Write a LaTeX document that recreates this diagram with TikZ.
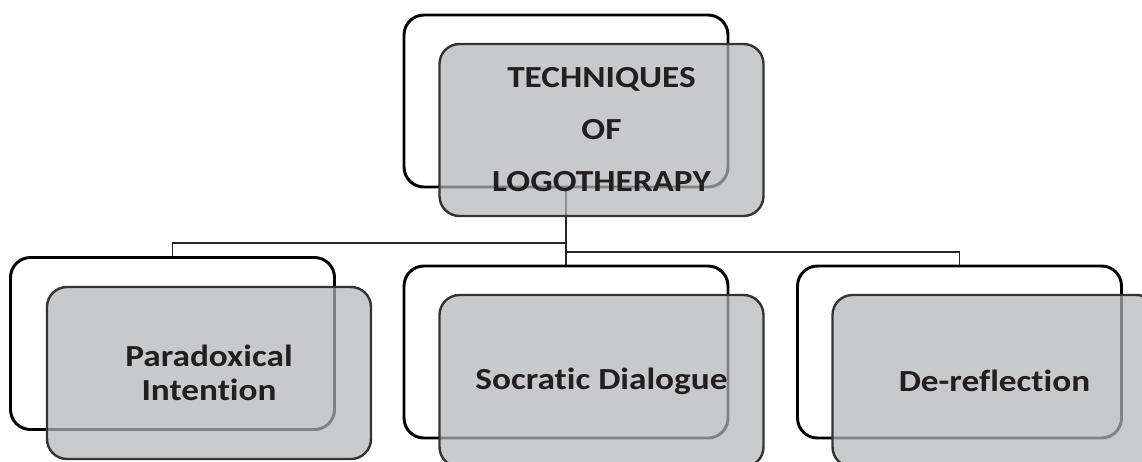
\documentclass[tikz,border=0pt]{standalone}
\usepackage{fontspec}
\newfontfamily\labelfont{Carlito}[FakeStretch=1.15, Ligatures={NoCommon}]
\definecolor{panel}{RGB}{180,181,184}
\definecolor{txt}{RGB}{35,31,32}
\begin{document}
\begin{tikzpicture}[x=0.75pt,y=-0.75pt,
  back/.style={draw=black, line width=2.2pt, rounded corners=15pt, fill=white,
    minimum width=243pt, minimum height=129pt, inner sep=0pt},
  front/.style={draw=black!80, line width=1.8pt, rounded corners=15pt,
    fill=panel, fill opacity=0.72, text opacity=1,
    minimum width=243pt, minimum height=129pt, inner sep=0pt, align=center,
    font=\labelfont\bfseries\fontsize{23}{26}\selectfont, text=txt},
  link/.style={draw=black!85, line width=1.1pt}]
\useasboundingbox (0,0) rectangle (1142,461);
\clip (0,0) rectangle (1142,461);

% outlined back cards
\node[back] (tb) at (566,101) {};
\node[back] (pb) at (172.5,343.5) {};
\node[back] (sb) at (566,352) {};
\node[back] (db) at (959.5,352) {};

% tree connectors
\coordinate (jl) at (566,243);
\coordinate (jr) at (566,252);
\draw[link] (tb.south) -- (sb.north);
\draw[link] (jl) -| (pb.north);
\draw[link] (jr) -| (db.north);

% shaded front cards with labels
\node[front, font=\labelfont\bfseries\fontsize{23}{39}\selectfont] (tf) at (601.5,130)
  {TECHNIQUES\\OF\\LOGOTHERAPY};
\node[front] (pf) at (209,373) {Paradoxical\\Intention};
\node[front] (sf) at (601.5,381) {Socratic Dialogue};
\node[front] (df) at (994.5,381) {De-reflection};
\end{tikzpicture}
\end{document}
